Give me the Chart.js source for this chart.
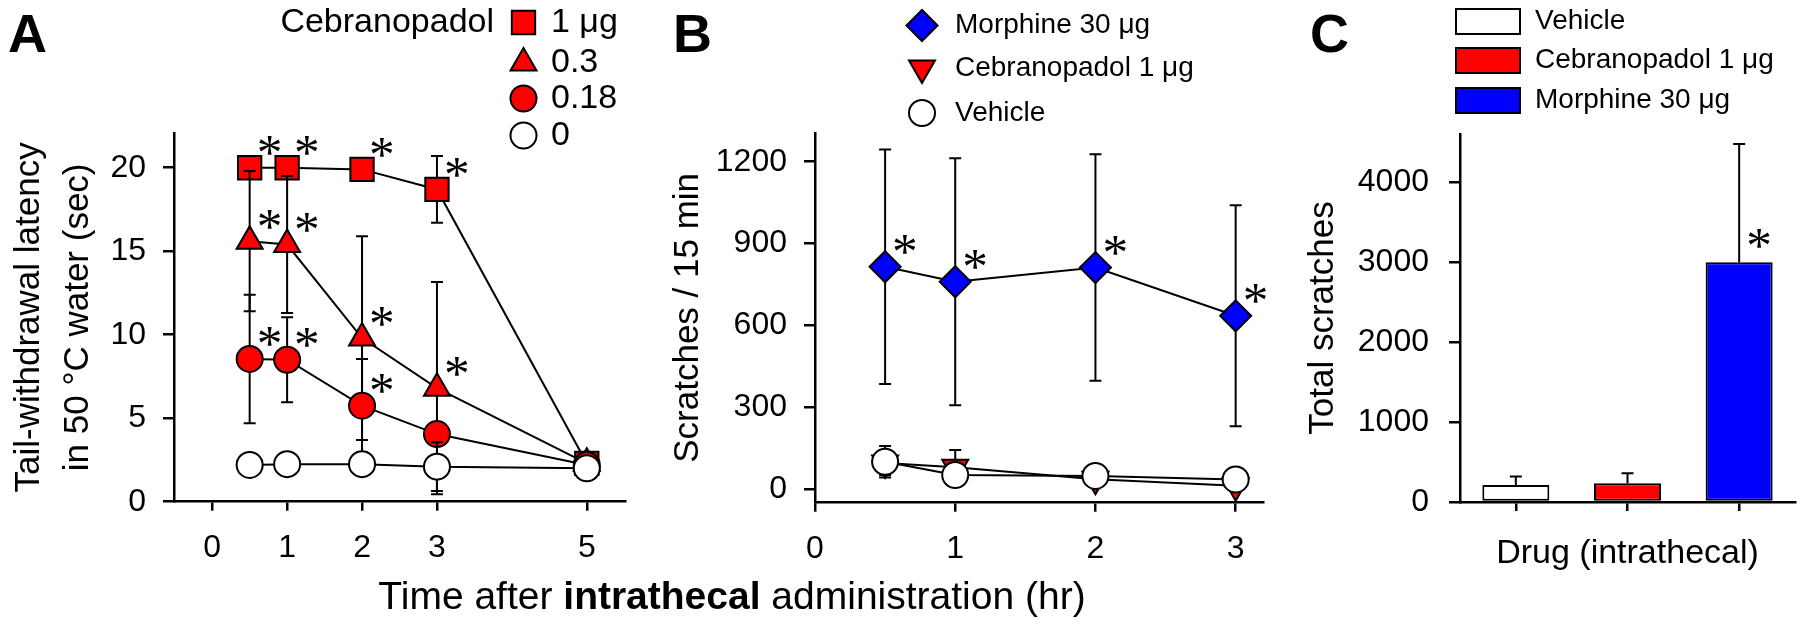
<!DOCTYPE html>
<html>
<head>
<meta charset="utf-8">
<script src="https://cdn.jsdelivr.net/npm/chart.js@4.4.1/dist/chart.umd.min.js"></script>
<style>
  html, body { margin: 0; padding: 0; background: #fff; }
  #wrap { position: relative; width: 1802px; height: 628px; }
  #wrap canvas { position: absolute; left: 0; top: 0; }
</style>
</head>
<body>
<div id="wrap">
  <canvas id="chartA" width="1802" height="628"></canvas>
  <canvas id="chartB" width="1802" height="628"></canvas>
  <canvas id="chartC" width="1802" height="628"></canvas>
</div>
<script>
// ---- Panel A: tail-withdrawal latency (sec) ----
const timeA = [0.5, 1, 2, 3, 5];
const cebra1A = [20.0, 20.0, 19.9, 18.7, 2.3];
const cebra1AErr = [0.3, 0.3, 0.1, 2.0, 0.2];
const cebra1AStar = [1, 1, 1, 1, 0];
const cebra03A = [15.6, 15.4, 9.8, 6.8, 2.3];
const cebra03AErr = [4.2, 4.1, 6.1, 6.35, 0.2];
const cebra03AStar = [1, 1, 1, 1, 0];
const cebra018A = [8.55, 8.5, 5.75, 4.05, 2.2];
const cebra018AErr = [3.85, 2.55, 2.8, 0.5, 0.2];
const cebra018AStar = [1, 1, 1, 0, 0];
const vehicleA = [2.2, 2.25, 2.25, 2.1, 2.0];
const vehicleAErr = [0.3, 0.3, 0.3, 1.46, 0.2];
const ticksAX = [0, 1, 2, 3, 5];
const ticksAY = [0, 5, 10, 15, 20];

// ---- Panel B: scratches / 15 min ----
const timeB = [0.5, 1, 2, 3];
const morphineB = [815, 760, 812, 635];
const morphineBErr = [430, 453, 415, 405];
const morphineBStar = [1, 1, 1, 1];
const cebraB = [95, 80, 36, 12];
const cebraBErr = [45, 63, 20, 10];
const vehicleB = [100, 51, 48, 35];
const vehicleBErr = [58, 20, 20, 15];
const ticksBX = [0, 1, 2, 3];
const ticksBY = [0, 300, 600, 900, 1200];

// ---- Panel C: total scratches ----
const groupsC = ['Vehicle', 'Cebranopadol 1 μg', 'Morphine 30 μg'];
const totalC = [214, 234, 3000];
const totalCErr = [104, 125, 1480];
const totalCStar = [0, 0, 1];
const ticksCY = [0, 1000, 2000, 3000, 4000];

const FONT = '"Liberation Sans", Arial, sans-serif';
const STAR_FONT = '"Liberation Serif", serif';
const STAR_H = 19;
const BLACK = '#000000';
const RED = '#ff0000';
const BLUE = '#0000ff';
const WHITE = '#ffffff';

Chart.defaults.font.family = FONT;
Chart.defaults.color = BLACK;

function pts(xs, ys) {
  return xs.map((x, i) => ({ x: x, y: ys[i] }));
}

function lineSet(label, xs, ys, errs, stars, style, radius, fill, order, rotation) {
  return {
    label: label,
    data: pts(xs, ys),
    errors: errs,
    stars: stars,
    borderColor: BLACK,
    borderWidth: 2,
    pointStyle: style,
    pointRadius: radius,
    pointRotation: rotation || 0,
    pointBackgroundColor: fill,
    pointBorderColor: BLACK,
    pointBorderWidth: 2,
    tension: 0,
    fill: false,
    clip: false,
    order: order
  };
}

function yAxis(o) {
  return {
    type: 'linear', position: 'left', min: o.min, max: o.max,
    afterBuildTicks: s => { s.ticks = o.ticks.map(v => ({ value: v })); },
    afterFit: s => { s.width = o.width; },
    border: { display: true, color: BLACK, width: 2.5 },
    grid: { drawOnChartArea: false, drawTicks: true, tickLength: 11, color: BLACK, lineWidth: 2.5 },
    ticks: { color: BLACK, font: { size: 32 }, padding: o.pad, callback: v => String(v) },
    title: { display: true, text: o.title, color: BLACK,
      font: { size: 35, lineHeight: o.lh || 1.2 }, padding: o.titlePad }
  };
}

function xAxis(o) {
  return {
    type: 'linear', position: 'bottom', min: o.min, max: o.max,
    afterBuildTicks: s => { s.ticks = o.ticks.map(v => ({ value: v })); },
    afterFit: s => { s.height = o.height; },
    border: { display: true, color: BLACK, width: 2.5 },
    grid: { drawOnChartArea: false, drawTicks: true, tickLength: 9, color: BLACK, lineWidth: 2.5 },
    ticks: { color: BLACK, font: { size: 32 }, padding: 18, callback: v => String(v) }
  };
}

// error bars: drawn under each dataset's own markers (lines/points)
function drawErrorBars(chart, index, upOnly) {
  const ctx = chart.ctx;
  const ds = chart.data.datasets[index];
  const meta = chart.getDatasetMeta(index);
  const ys = chart.scales.y;
  ctx.save();
  ctx.strokeStyle = BLACK;
  ctx.lineWidth = 2;
  meta.data.forEach((el, i) => {
    const d = ds.data[i];
    const v = typeof d === 'object' ? d.y : d;
    const e = ds.errors[i];
    const top = ys.getPixelForValue(v + e);
    const bot = upOnly ? el.y : ys.getPixelForValue(v - e);
    ctx.beginPath();
    ctx.moveTo(el.x, bot);
    ctx.lineTo(el.x, top);
    ctx.moveTo(el.x - 6, top);
    ctx.lineTo(el.x + 6, top);
    if (!upOnly) {
      ctx.moveTo(el.x - 6, bot);
      ctx.lineTo(el.x + 6, bot);
    }
    ctx.stroke();
  });
  ctx.restore();
}

let starSize = null;
function drawStar(ctx, cx, cy) {
  ctx.save();
  if (!starSize) {
    ctx.font = '100px ' + STAR_FONT;
    const m0 = ctx.measureText('*');
    starSize = 100 * STAR_H / (m0.actualBoundingBoxAscent + m0.actualBoundingBoxDescent);
  }
  ctx.font = starSize + 'px ' + STAR_FONT;
  const m = ctx.measureText('*');
  ctx.fillStyle = BLACK;
  ctx.textAlign = 'left';
  ctx.textBaseline = 'alphabetic';
  ctx.fillText('*', cx - (m.actualBoundingBoxRight - m.actualBoundingBoxLeft) / 2,
    cy + (m.actualBoundingBoxAscent - m.actualBoundingBoxDescent) / 2);
  ctx.restore();
}

function drawLegend(chart, L) {
  const ctx = chart.ctx;
  ctx.font = L.fontSize + 'px ' + FONT;
  ctx.textBaseline = 'middle';
  if (L.title) {
    ctx.fillStyle = BLACK;
    ctx.textAlign = 'right';
    ctx.fillText(L.title, L.titleX, L.rows[0]);
  }
  let items;
  if (chart.config.type === 'bar') {
    const ds = chart.data.datasets[0];
    items = chart.data.labels.map((lab, i) => ({ text: lab, box: true, fill: ds.backgroundColor[i] }));
  } else {
    items = chart.data.datasets.map(ds => ({ text: ds.label, style: ds.pointStyle,
      radius: ds.pointRadius, rotation: ds.pointRotation, fill: ds.pointBackgroundColor }));
  }
  items.forEach((it, i) => {
    const y = L.rows[i];
    ctx.fillStyle = it.fill;
    ctx.strokeStyle = BLACK;
    ctx.lineWidth = 2;
    if (it.box) {
      ctx.fillRect(L.symX, y - L.boxH / 2, L.boxW, L.boxH);
      ctx.strokeRect(L.symX, y - L.boxH / 2, L.boxW, L.boxH);
    } else {
      Chart.helpers.drawPoint(ctx, { pointStyle: it.style, radius: it.radius,
        rotation: it.rotation, borderWidth: 2 }, L.symX, y);
    }
    ctx.fillStyle = BLACK;
    ctx.textAlign = 'left';
    ctx.fillText(it.text, L.textX, y);
  });
}

function drawRichTitle(ctx, T) {
  const parts = T.parts.map(p => ({ t: p.t, font: (p.bold ? 'bold ' : '') + T.size + 'px ' + FONT }));
  let total = 0;
  parts.forEach(p => { ctx.font = p.font; p.w = ctx.measureText(p.t).width; total += p.w; });
  let x = T.cx - total / 2;
  ctx.fillStyle = BLACK;
  ctx.textAlign = 'left';
  ctx.textBaseline = 'alphabetic';
  parts.forEach(p => { ctx.font = p.font; ctx.fillText(p.t, x, T.y); x += p.w; });
}

const decor = {
  id: 'decor',
  beforeDatasetDraw(chart, args) {
    const ds = chart.data.datasets[args.index];
    if (ds.errors && chart.config.type !== 'bar') drawErrorBars(chart, args.index, false);
  },
  afterDatasetDraw(chart, args) {
    const ds = chart.data.datasets[args.index];
    if (ds.errors && chart.config.type === 'bar') drawErrorBars(chart, args.index, true);
  },
  afterDatasetsDraw(chart, args, opts) {
    chart.data.datasets.forEach((ds, k) => {
      if (!ds.stars) return;
      chart.getDatasetMeta(k).data.forEach((el, i) => {
        if (ds.stars[i]) drawStar(chart.ctx, el.x + opts.starDx, el.y + opts.starDy);
      });
    });
  },
  afterDraw(chart, args, opts) {
    const ctx = chart.ctx;
    ctx.save();
    ctx.fillStyle = BLACK;
    ctx.font = 'bold 54px ' + FONT;
    ctx.textAlign = 'left';
    ctx.textBaseline = 'alphabetic';
    ctx.fillText(opts.letter.text, opts.letter.x, opts.letter.y);
    drawLegend(chart, opts.legend);
    if (opts.xTitle) drawRichTitle(ctx, opts.xTitle);
    ctx.restore();
  }
};

const common = {
  responsive: false,
  maintainAspectRatio: false,
  animation: false,
  events: []
};

// Panel A
new Chart(document.getElementById('chartA'), {
  type: 'line',
  data: {
    datasets: [
      lineSet('1 μg', timeA, cebra1A, cebra1AErr, cebra1AStar, 'rect', 16.5, RED, 3),
      lineSet('0.3', timeA, cebra03A, cebra03AErr, cebra03AStar, 'triangle', 15, RED, 2),
      lineSet('0.18', timeA, cebra018A, cebra018AErr, cebra018AStar, 'circle', 13, RED, 1),
      lineSet('0', timeA, vehicleA, vehicleAErr, null, 'circle', 13, WHITE, 0)
    ]
  },
  options: Object.assign({}, common, {
    layout: { padding: { left: 0, right: 1177, top: 133, bottom: 36.3 } },
    scales: {
      x: xAxis({ min: -0.51, max: 5.51, ticks: ticksAX, height: 90 }),
      y: yAxis({ min: 0, max: 22.08, ticks: ticksAY, width: 174, pad: 17,
        title: ['Tail-withdrawal latency', 'in 50 °C water (sec)'], lh: 1.383, titlePad: 5.4 })
    },
    plugins: {
      legend: { display: false },
      tooltip: { enabled: false },
      decor: {
        starDx: 20, starDy: -22,
        letter: { text: 'A', x: 8, y: 52 },
        legend: { fontSize: 34, title: 'Cebranopadol', titleX: 494, symX: 523.5, textX: 551,
          rows: [22.5, 63, 98.5, 135.5] },
        xTitle: { size: 39, cx: 732, y: 609,
          parts: [{ t: 'Time after ' }, { t: 'intrathecal', bold: true }, { t: ' administration (hr)' }] }
      }
    }
  }),
  plugins: [decor]
});

// Panel B
new Chart(document.getElementById('chartB'), {
  type: 'line',
  data: {
    datasets: [
      lineSet('Morphine 30 μg', timeB, morphineB, morphineBErr, morphineBStar, 'rectRot', 15.5, BLUE, 2),
      lineSet('Cebranopadol 1 μg', timeB, cebraB, cebraBErr, null, 'triangle', 15, RED, 1, 180),
      lineSet('Vehicle', timeB, vehicleB, vehicleBErr, null, 'circle', 13, WHITE, 0)
    ]
  },
  options: Object.assign({}, common, {
    layout: { padding: { left: 650, right: 538.7, top: 133, bottom: 35.3 } },
    scales: {
      x: xAxis({ min: 0, max: 3.197, ticks: ticksBX, height: 90 }),
      y: yAxis({ min: -50.2, max: 1305.3, ticks: ticksBY, width: 165, pad: 17,
        title: 'Scratches / 15 min', titlePad: 17 })
    },
    plugins: {
      legend: { display: false },
      tooltip: { enabled: false },
      decor: {
        starDx: 20, starDy: -22,
        letter: { text: 'B', x: 673, y: 52 },
        legend: { fontSize: 28, symX: 922, textX: 955, rows: [25.5, 68, 113] }
      }
    }
  }),
  plugins: [decor]
});

// Panel C
new Chart(document.getElementById('chartC'), {
  type: 'bar',
  data: {
    labels: groupsC,
    datasets: [{
      data: totalC,
      errors: totalCErr,
      stars: totalCStar,
      backgroundColor: [WHITE, RED, BLUE],
      borderColor: BLACK,
      borderWidth: 2,
      borderSkipped: false,
      barPercentage: 0.6,
      categoryPercentage: 1
    }]
  },
  options: Object.assign({}, common, {
    layout: { padding: { left: 1290, right: 7, top: 134, bottom: 46 } },
    scales: {
      x: {
        type: 'category', position: 'bottom', offset: true,
        afterFit: s => { s.height = 80; },
        border: { display: true, color: BLACK, width: 2.5 },
        grid: { offset: false, drawOnChartArea: false, drawTicks: true, tickLength: 9, color: BLACK, lineWidth: 2.5 },
        ticks: { display: false },
        title: { display: true, text: 'Drug (intrathecal)', color: BLACK,
          font: { size: 34 }, padding: { top: 0, bottom: 8.4 } }
      },
      y: yAxis({ min: 0, max: 4604, ticks: ticksCY, width: 170, pad: 20,
        title: 'Total scratches', titlePad: 12 })
    },
    plugins: {
      legend: { display: false },
      tooltip: { enabled: false },
      decor: {
        starDx: 20, starDy: -24,
        letter: { text: 'C', x: 1310, y: 52 },
        legend: { fontSize: 28, symX: 1456, textX: 1535, boxW: 64, boxH: 25, rows: [21.5, 60.5, 100.5] }
      }
    }
  }),
  plugins: [decor]
});
</script>
</body>
</html>
